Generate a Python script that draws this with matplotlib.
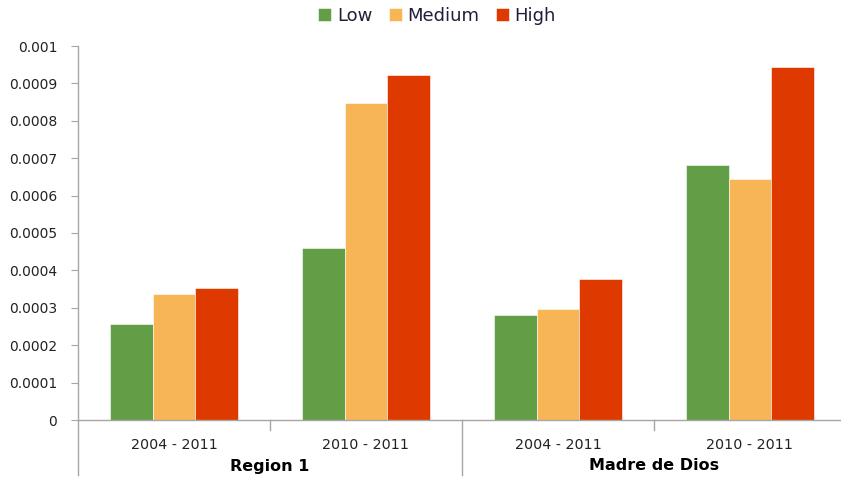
import numpy as np
from matplotlib import pyplot as plt

groups = ['Region 1', 'Madre de Dios']
periods = ['2004 - 2011', '2010 - 2011']
series = ['Low', 'Medium', 'High']
low = [0.000257, 0.000460, 0.000281, 0.000682]
medium = [0.000336, 0.000848, 0.000297, 0.000644]
high = [0.000352, 0.000922, 0.000377, 0.000945]
yticks = [0, 0.0001, 0.0002, 0.0003, 0.0004, 0.0005, 0.0006, 0.0007, 0.0008, 0.0009, 0.001]
ytick_labels = ['0', '0.0001', '0.0002', '0.0003', '0.0004', '0.0005',
                '0.0006', '0.0007', '0.0008', '0.0009', '0.001']

colors = ['#629E45', '#F8B555', '#DE3A00']
axis_color = '#A6A6A6'
text_color = '#222222'

W, H = 841, 480
fig = plt.figure(figsize=(W / 100, H / 100), dpi=100)
# axes from x=78 to 846 px, y=46 to 420 px (right edge slightly clipped like the original)
ax = fig.add_axes([78 / W, (H - 420) / H, (846 - 78) / W, (420 - 46) / H])

n_cat = len(groups) * len(periods)
x = np.arange(n_cat) + 0.5
bw = 0.222
for i, (vals, name) in enumerate(zip([low, medium, high], series)):
    ax.bar(x + (i - 1) * bw, vals, width=bw, color=colors[i], label=name,
           edgecolor='white', linewidth=0.4, zorder=2)

ax.set_xlim(0, n_cat)
ax.set_ylim(0, 0.001)
ax.set_yticks(yticks)
ax.set_yticklabels(ytick_labels)
ax.set_xticks(x)
ax.set_xticklabels(periods * len(groups))

for side in ['top', 'right']:
    ax.spines[side].set_visible(False)
for side in ['left', 'bottom']:
    ax.spines[side].set_color(axis_color)
    ax.spines[side].set_linewidth(1.0)

ax.tick_params(axis='y', length=5, color=axis_color, labelsize=10,
               labelcolor=text_color, pad=10)
ax.tick_params(axis='x', length=0, labelsize=10.3, labelcolor=text_color, pad=13)

# category separators on the two-level axis
trans = ax.get_xaxis_transform()
ax_h = 420 - 46
for k in range(n_cat + 1):
    if k % len(periods) == 0:
        ax.plot([k, k], [-55 / ax_h, 0], color=axis_color, lw=1.0,
                transform=trans, clip_on=False)
    else:
        ax.plot([k, k], [-10 / ax_h, 0], color=axis_color, lw=1.0,
                transform=trans, clip_on=False)

for g, name in enumerate(groups):
    ax.text(g * len(periods) + len(periods) / 2, -46 / ax_h, name, transform=trans,
            ha='center', va='center', fontsize=11.5, fontweight='bold', color='black')

ax.legend(loc='center', bbox_to_anchor=(437 / W, (H - 16) / H),
          bbox_transform=fig.transFigure, ncol=3, frameon=False,
          fontsize=13, handlelength=0.75, handleheight=0.75, handletextpad=0.3,
          columnspacing=0.9, labelcolor='#1F1F3A')

fig.savefig('out.png', dpi=100)
